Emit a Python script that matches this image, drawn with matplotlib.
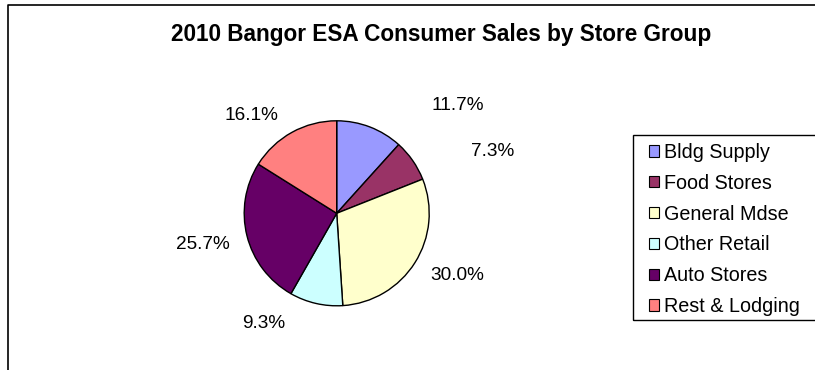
import matplotlib
matplotlib.use('Agg')
import matplotlib.pyplot as plt
from matplotlib.lines import Line2D
from matplotlib.patches import Rectangle

plt.rcParams['font.family'] = ['Liberation Sans', 'DejaVu Sans']

title = '2010 Bangor ESA Consumer Sales by Store Group'
groups = ['Bldg Supply', 'Food Stores', 'General Mdse', 'Other Retail',
          'Auto Stores', 'Rest & Lodging']
shares = [11.7, 7.3, 30.0, 9.3, 25.7, 16.1]
colors = ['#9999FF', '#993366', '#FFFFCC', '#CCFFFF', '#660066', '#FF8080']

# label centres relative to pie centre, in units of the pie radius
label_pos = [(1.31, 1.16), (1.69, 0.67), (1.30, -0.67),
             (-0.79, -1.19), (-1.45, -0.34), (-0.92, 1.06)]

W, H = 815, 370
fig = plt.figure(figsize=(W / 100, H / 100), dpi=100)

# pie: centre (336.7, 213.3) px, radius 92.5 px
cx, cy, r = 336.7, 213.3, 92.5
half = 200
ax = fig.add_axes([(cx - half) / W, (H - cy - half) / H, 2 * half / W, 2 * half / H])
wedges, _ = ax.pie(shares, colors=colors, startangle=90, counterclock=False,
                   radius=1.0, wedgeprops=dict(edgecolor='black', linewidth=1.0))
ax.set_xlim(-half / r, half / r)
ax.set_ylim(-half / r, half / r)
ax.set_aspect('equal')
ax.axis('off')

for val, (lx, ly) in zip(shares, label_pos):
    ax.text(lx, ly, f'{val:.1f}%', ha='center', va='center', fontsize=13.7,
            color='black')

fig.text(441.5 / W, 1 - 34 / H, title, ha='center', va='center',
         fontsize=16.3, fontweight='bold')

# legend entries, no frame (box drawn separately)
leg = fig.legend([Rectangle((0, 0), 1, 1, facecolor=c, edgecolor='black', linewidth=0.8)
                  for c in colors], groups,
                 loc='upper left', bbox_to_anchor=(645 / W, 1 - 139 / H),
                 frameon=False, fontsize=14.2,
                 handlelength=0.5, handleheight=0.5, handletextpad=0.25,
                 labelspacing=0.6, borderpad=0.2, borderaxespad=0)

# legend box, running off the right edge
fig.add_artist(Rectangle((633 / W, 1 - 320 / H), 200 / W, 185 / H, fill=False,
                         edgecolor='black', linewidth=1.0, transform=fig.transFigure))

# chart area border (left and top edges)
fig.add_artist(Line2D([7.5 / W, 7.5 / W, 1.0], [0.0, 1 - 5 / H, 1 - 5 / H],
                      color='black', linewidth=1.2, transform=fig.transFigure))

fig.savefig('out.png', dpi=100, facecolor='white')
